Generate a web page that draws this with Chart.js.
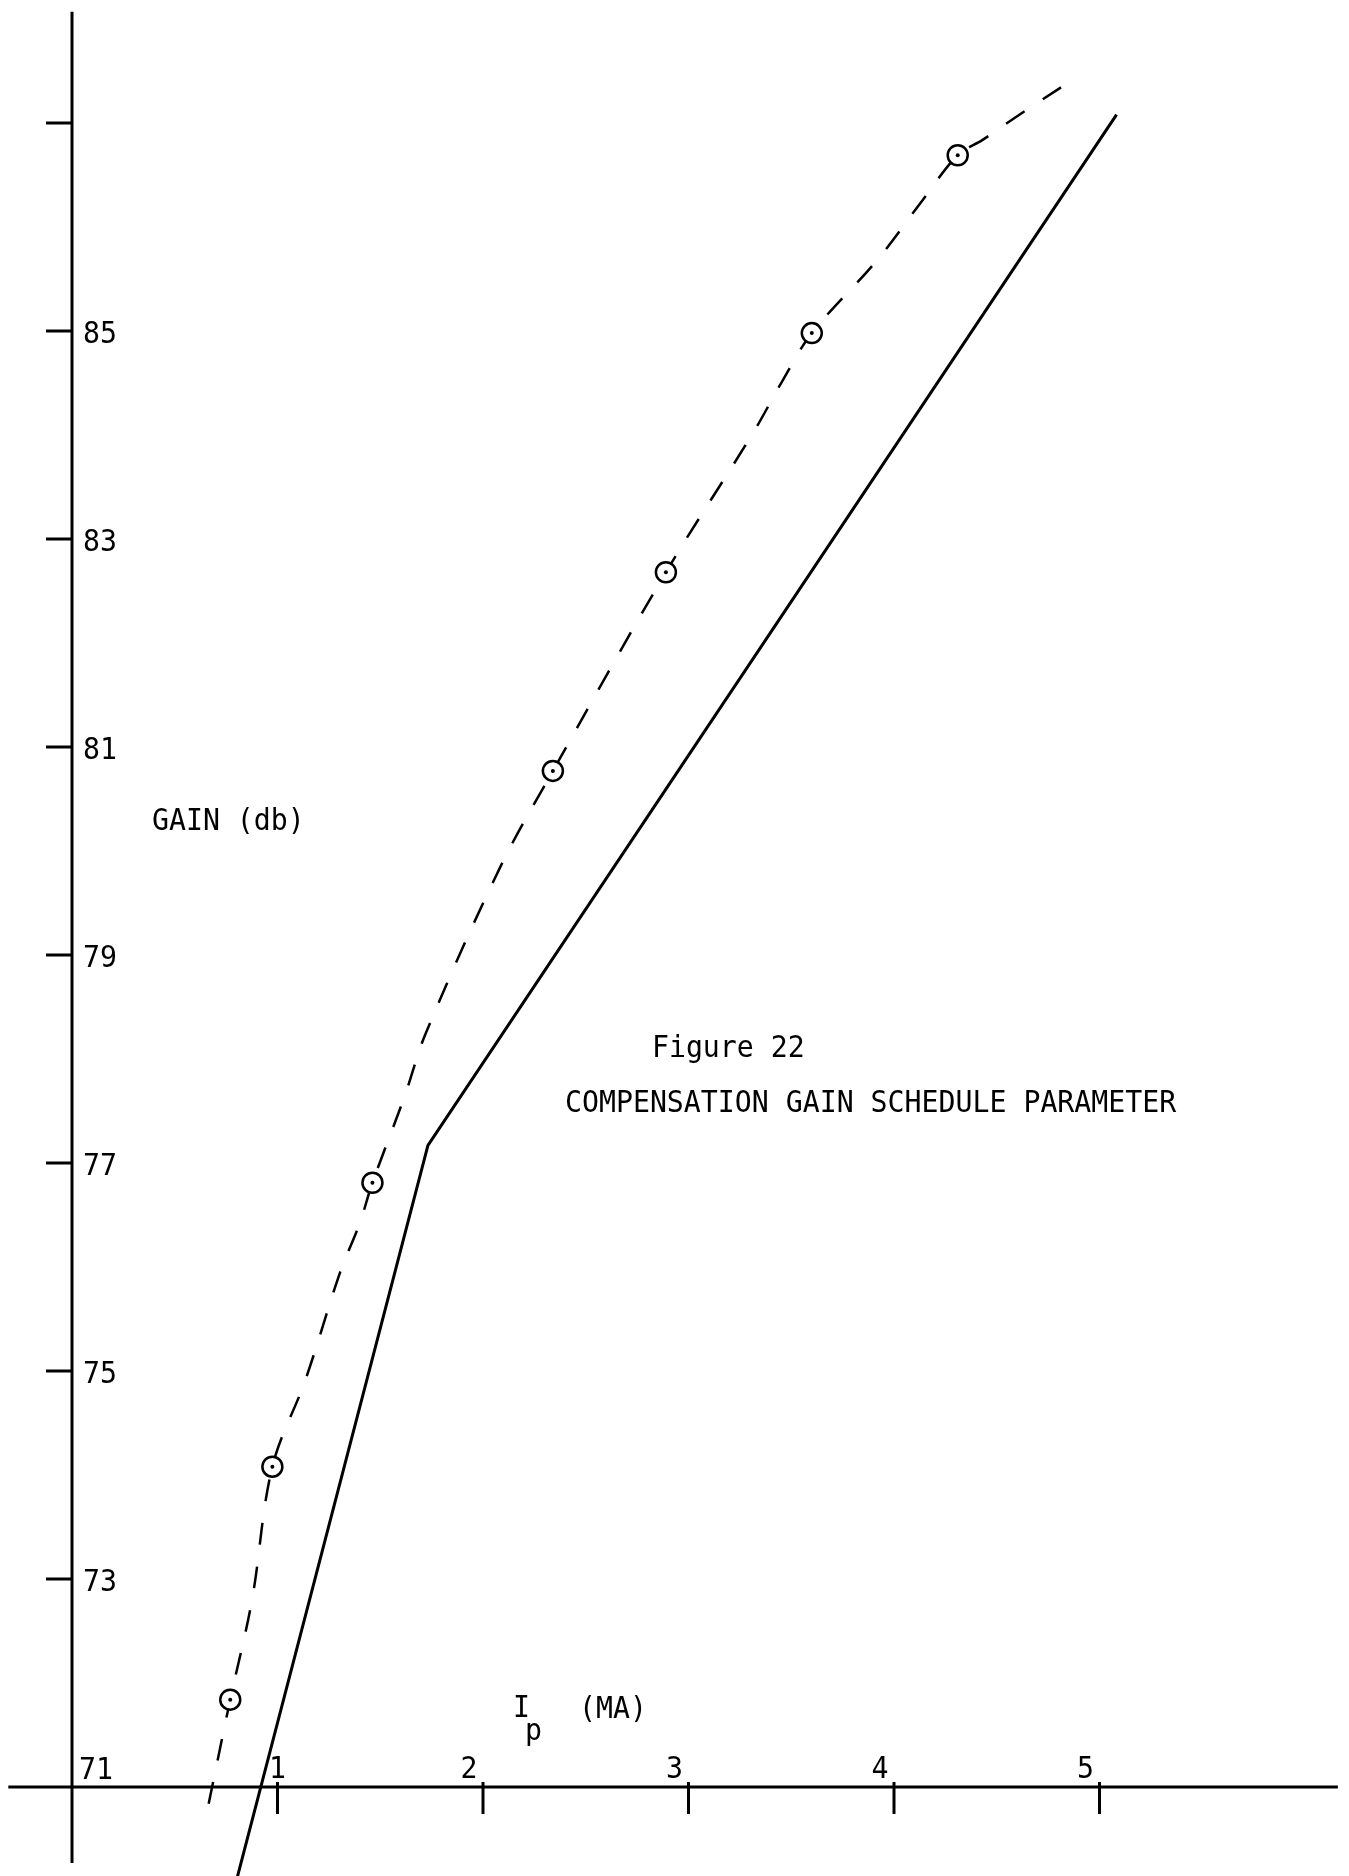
<!DOCTYPE html>
<html>
<head>
<meta charset="utf-8">
<script src="https://cdn.jsdelivr.net/npm/chart.js@4.4.1/dist/chart.umd.min.js"></script>
<style>
  html, body { margin: 0; padding: 0; background: #fff; }
  #wrap { width: 1349px; height: 1876px; position: relative; }
</style>
</head>
<body>
<div id="wrap"><canvas id="chart"></canvas></div>
<script>
// measured points (circled on the plot), Ip in MA vs gain in db
const measX = [0.77, 0.975, 1.462, 2.34, 2.89, 3.60, 4.31];
const measY = [71.84, 74.08, 76.81, 80.77, 82.68, 84.98, 86.69];

// dashed curve through the measured points
const fitX = [0.665, 0.77, 0.876, 0.975, 1.135, 1.305, 1.40, 1.462, 1.62, 1.72, 2.085, 2.34, 2.89, 3.314, 3.46, 3.60, 3.917, 4.14, 4.31, 4.433, 4.61, 4.842];
const fitY = [70.84, 71.84, 72.80, 74.08, 74.91, 75.95, 76.42, 76.81, 77.65, 78.24, 79.85, 80.77, 82.68, 84.02, 84.53, 84.98, 85.68, 86.26, 86.69, 86.84, 87.08, 87.38];

// solid gain schedule (two straight pieces)
const schedX = [0.80, 1.732, 5.083];
const schedY = [70.10, 77.17, 87.08];

const yTicks = [71, 73, 75, 77, 79, 81, 83, 85, 87];
const yTickLabels = ['71', '73', '75', '77', '79', '81', '83', '85', ''];
const xTicks = [1, 2, 3, 4, 5];
const xTickLabels = ['1', '2', '3', '4', '5'];

const FONT = '30px "DejaVu Sans Mono", "Liberation Mono", monospace';

function pts(xs, ys) {
  return xs.map((x, i) => ({ x: x, y: ys[i] }));
}

// typewriter text is a bit narrower than DejaVu, squeeze it horizontally
function typed(ctx, text, px, py) {
  ctx.save();
  ctx.translate(px, py);
  ctx.scale(0.94, 1);
  ctx.fillText(text, 0, 0);
  ctx.restore();
}

// axes drawn like the typed/hand-ruled original, placed through the chart scales
const handAxes = {
  id: 'handAxes',
  beforeDatasetsDraw(chart) {
    const { ctx, scales: { x, y } } = chart;
    const x0 = x.getPixelForValue(0);
    const y0 = y.getPixelForValue(71);
    ctx.save();
    ctx.strokeStyle = '#000';
    ctx.fillStyle = '#000';
    ctx.lineWidth = 3;
    ctx.lineCap = 'butt';

    ctx.beginPath();
    ctx.moveTo(x0, y.getPixelForValue(88.07));
    ctx.lineTo(x0, y.getPixelForValue(70.27));
    ctx.stroke();

    ctx.beginPath();
    ctx.moveTo(x.getPixelForValue(-0.31), y0);
    ctx.lineTo(x.getPixelForValue(6.16), y0);
    ctx.stroke();

    ctx.font = FONT;
    ctx.textAlign = 'left';
    yTicks.forEach((v, i) => {
      const py = y.getPixelForValue(v);
      if (v === 71) {
        ctx.textBaseline = 'bottom';
        typed(ctx, yTickLabels[i], x0 + 7, y0 - 1);
        return;
      }
      ctx.beginPath();
      ctx.moveTo(x0 - 26, py);
      ctx.lineTo(x0, py);
      ctx.stroke();
      ctx.textBaseline = 'middle';
      typed(ctx, yTickLabels[i], x0 + 11, py + 4);
    });

    ctx.textAlign = 'center';
    ctx.textBaseline = 'bottom';
    xTicks.forEach((v, i) => {
      const px = x.getPixelForValue(v);
      ctx.beginPath();
      ctx.moveTo(px, y0 - 5);
      ctx.lineTo(px, y0 + 27);
      ctx.stroke();
      const off = v === 1 ? 0 : -14;
      typed(ctx, xTickLabels[i], px + off, y0 - 2);
    });

    // captions
    ctx.textAlign = 'left';
    ctx.textBaseline = 'alphabetic';
    const notes = [
      { t: 'GAIN (db)', x: 0.389, y: 80.20 },
      { t: 'Figure 22', x: 2.822, y: 78.02 },
      { t: 'COMPENSATION GAIN SCHEDULE PARAMETER', x: 2.399, y: 77.49 },
      { t: 'I', x: 2.146, y: 71.67 },
      { t: 'p', x: 2.204, y: 71.45 },
      { t: '(MA)', x: 2.467, y: 71.66 }
    ];
    notes.forEach(n => {
      typed(ctx, n.t, x.getPixelForValue(n.x), y.getPixelForValue(n.y));
    });
    ctx.restore();
  }
};

new Chart(document.getElementById('chart'), {
  type: 'scatter',
  data: {
    datasets: [
      {
        label: 'measured',
        data: pts(measX, measY),
        showLine: false,
        pointRadius: 10,
        pointHoverRadius: 10,
        pointBackgroundColor: '#fff',
        pointBorderColor: '#000',
        pointBorderWidth: 2.5,
        order: 1
      },
      {
        label: 'measured centre',
        data: pts(measX, measY),
        showLine: false,
        pointRadius: 2,
        pointHoverRadius: 2,
        pointBackgroundColor: '#000',
        pointBorderWidth: 0,
        order: 0
      },
      {
        label: 'fit',
        data: pts(fitX, fitY),
        showLine: true,
        borderColor: '#000',
        borderWidth: 2.5,
        borderDash: [22, 22],
        pointRadius: 0,
        tension: 0.35,
        order: 2
      },
      {
        label: 'schedule',
        data: pts(schedX, schedY),
        showLine: true,
        borderColor: '#000',
        borderWidth: 3,
        pointRadius: 0,
        tension: 0,
        order: 3
      }
    ]
  },
  options: {
    responsive: true,
    maintainAspectRatio: false,
    animation: false,
    events: [],
    layout: { padding: 0, autoPadding: false },
    plugins: {
      legend: { display: false },
      tooltip: { enabled: false }
    },
    scales: {
      x: { type: 'linear', min: -0.3504, max: 6.2141, display: false },
      y: { type: 'linear', min: 70.1442, max: 88.1827, display: false }
    }
  },
  plugins: [handAxes]
});
</script>
</body>
</html>
